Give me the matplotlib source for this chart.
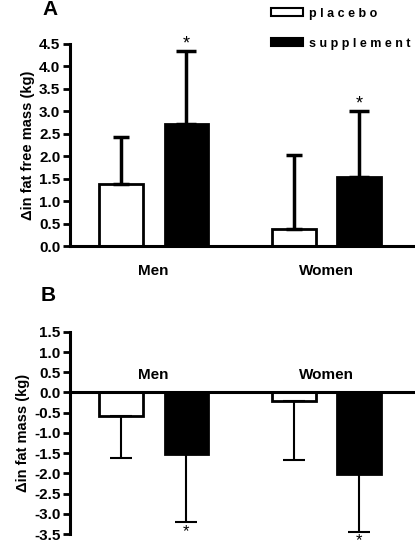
import matplotlib
matplotlib.use("Agg")
import matplotlib.pyplot as plt
import numpy as np
from matplotlib.patches import Patch

plt.rcParams['font.family'] = ['Liberation Sans', 'DejaVu Sans']

# dados
grupos = ["Men", "Women"]
legenda = ["placebo", "supplement"]

# A) massa livre de gordura (kg): media e DP (barra de erro so para cima)
ffm_placebo = [1.38, 0.38]
ffm_placebo_dp = [1.05, 1.65]
ffm_supl = [2.72, 1.54]
ffm_supl_dp = [1.62, 1.46]

# B) massa gorda (kg): media e DP (barra de erro so para baixo)
fm_placebo = [-0.58, -0.22]
fm_placebo_dp = [1.05, 1.44]
fm_supl = [-1.51, -2.02]
fm_supl_dp = [1.70, 1.43]

ticks_a = np.arange(0, 4.51, 0.5)
ticks_b = np.arange(-3.5, 1.51, 0.5)

x = np.arange(len(grupos))
larg = 0.254
desl = 0.19

fig = plt.figure(figsize=(4.15, 5.48), dpi=100)
ax_a = fig.add_axes([0.169, 0.551, 0.831, 0.369])
ax_b = fig.add_axes([0.169, 0.0255, 0.831, 0.369])

for ax in (ax_a, ax_b):
    ax.spines['top'].set_visible(False)
    ax.spines['right'].set_visible(False)
    ax.spines['left'].set_linewidth(2.2)
    ax.spines['bottom'].set_linewidth(2.2)
    ax.set_xlim(-0.483, 1.512)
    ax.tick_params(axis='y', length=5, width=2, labelsize=11, pad=2)

# ---- painel A
ax_a.bar(x - desl, ffm_placebo, larg, color='white', edgecolor='black', linewidth=2, zorder=2)
ax_a.bar(x + desl, ffm_supl, larg, color='black', edgecolor='black', linewidth=2, zorder=2)
zeros = np.zeros(len(grupos))
ax_a.errorbar(x - desl, ffm_placebo, yerr=[zeros, ffm_placebo_dp], fmt='none',
              ecolor='black', elinewidth=2.5, capsize=6, capthick=2.5, zorder=3)
ax_a.errorbar(x + desl, ffm_supl, yerr=[zeros, ffm_supl_dp], fmt='none',
              ecolor='black', elinewidth=2.5, capsize=7, capthick=2.5, zorder=3)
ax_a.set_ylim(0, 4.5)
ax_a.set_yticks(ticks_a)
ax_a.set_yticklabels([f"{t:.1f}" for t in ticks_a], fontweight='bold')
ax_a.set_xticks(x)
ax_a.set_xticklabels(grupos, fontsize=11, fontweight='bold')
ax_a.tick_params(axis='x', length=0, pad=13)
ax_a.set_ylabel("Δin fat free mass (kg)", fontsize=10.5, fontweight='bold', labelpad=3)
for xi, m, s in zip(x + desl, ffm_supl, ffm_supl_dp):
    ax_a.annotate("*", xy=(xi, m + s), xytext=(0, -1), textcoords='offset points',
                  ha='center', va='bottom', fontsize=13, annotation_clip=False)

# ---- painel B
ax_b.bar(x - desl, fm_placebo, larg, color='white', edgecolor='black', linewidth=2, zorder=2)
ax_b.bar(x + desl, fm_supl, larg, color='black', edgecolor='black', linewidth=2, zorder=2)
ax_b.errorbar(x - desl, fm_placebo, yerr=[fm_placebo_dp, zeros], fmt='none',
              ecolor='black', elinewidth=1.5, capsize=8, capthick=1.5, zorder=3)
ax_b.errorbar(x + desl, fm_supl, yerr=[fm_supl_dp, zeros], fmt='none',
              ecolor='black', elinewidth=1.5, capsize=8, capthick=1.5, zorder=3)
ax_b.set_ylim(-3.5, 1.5)
ax_b.set_yticks(ticks_b)
ax_b.set_yticklabels([f"{t:.1f}" for t in ticks_b], fontweight='bold')
ax_b.spines['bottom'].set_position(('data', 0))
ax_b.spines['bottom'].set_zorder(4)
ax_b.set_xticks([])
ax_b.set_ylabel("Δin fat mass (kg)", fontsize=10.5, fontweight='bold', labelpad=3)
for xi, g in zip(x, grupos):
    ax_b.annotate(g, xy=(xi, 0), xytext=(0, 12.5), textcoords='offset points',
                  ha='center', va='center', fontsize=11, fontweight='bold')
for xi, m, s in zip(x + desl, fm_supl, fm_supl_dp):
    ax_b.annotate("*", xy=(xi, m - s), xytext=(0, -1), textcoords='offset points',
                  ha='center', va='top', fontsize=12, annotation_clip=False)

# rotulos dos paineis
fig.text(0.12, 0.982, "A", fontsize=15, fontweight='bold', ha='center', va='center')
fig.text(0.116, 0.461, "B", fontsize=15, fontweight='bold', ha='center', va='center')

# legenda com letras espacadas
handles = [Patch(facecolor='white', edgecolor='black', linewidth=1.5),
           Patch(facecolor='black', edgecolor='black', linewidth=1.5)]
rotulos = [" ".join(l) for l in legenda]
fig.legend(handles, rotulos, loc='upper left', bbox_to_anchor=(0.653, 0.986),
           frameon=False, prop={'size': 9, 'weight': 'bold'}, handlelength=2.6,
           handleheight=0.6, handletextpad=0.45, labelspacing=1.45, borderpad=0,
           borderaxespad=0)

fig.savefig("out.png", dpi=100)
